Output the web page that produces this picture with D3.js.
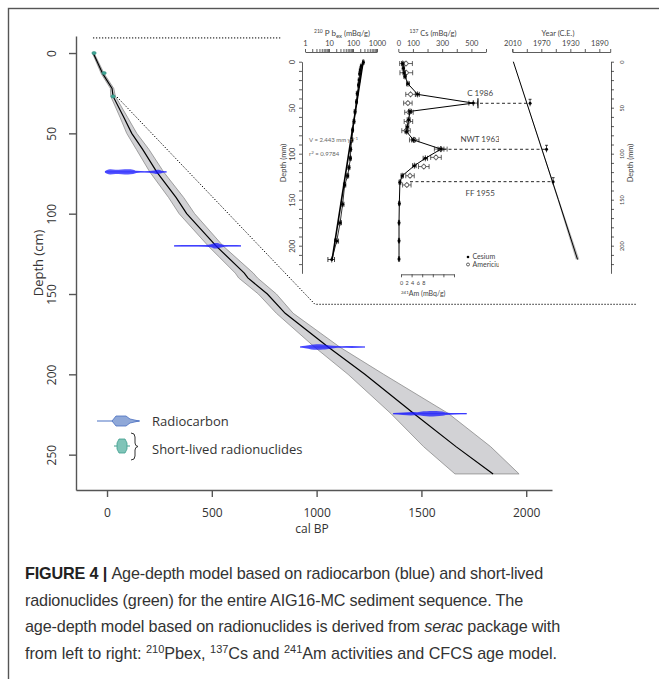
<!DOCTYPE html>
<html>
<head>
<meta charset="utf-8">
<script src="https://cdn.jsdelivr.net/npm/d3@7/dist/d3.min.js"></script>
<style>
  body { margin: 0; background: #fff; }
</style>
</head>
<body>
<div class="canvas"></div>
<script>
'use strict';

// ---------- Data ----------
// Age-depth model (depth in cm, age in cal BP)
var modelDepth = [0, 13, 22, 27, 40, 50, 60, 74, 90, 100, 120, 137, 140, 150, 162, 183, 200, 224.5, 245, 262];
var modelMean = [-66, -20, 24, 29, 80, 118, 170, 237, 330, 380, 520, 655, 672, 765, 850, 1055, 1230, 1465, 1665, 1842];
var modelMin = [-70, -27, 16, 18, 62, 94, 140, 204, 294, 344, 482, 612, 628, 722, 808, 990, 1150, 1355, 1510, 1660];
var modelMax = [-62, -13, 32, 40, 98, 142, 200, 270, 366, 418, 553, 698, 718, 808, 888, 1110, 1320, 1630, 1830, 1966];

// Radiocarbon dates: depth and calibrated probability (relative density)
var c14Depth = [74, 120, 183, 224.5];
var c14Age74 = [-10, 0, 15, 40, 70, 100, 125, 140, 180, 225, 240, 255, 265, 284];
var c14Dens74 = [0, 0.6, 0.9, 0.7, 0.8, 0.9, 0.7, 0.2, 0.05, 0.4, 0.7, 0.5, 0.1, 0];
var c14Age120 = [320, 400, 470, 496, 510, 525, 539, 560, 600, 639];
var c14Dens120 = [0, 0.05, 0.1, 0.4, 0.9, 1, 0.6, 0.15, 0.05, 0];
var c14Age183 = [921, 945, 975, 1000, 1030, 1048, 1080, 1120, 1167, 1231];
var c14Dens183 = [0, 0.3, 0.8, 1, 0.9, 0.7, 0.3, 0.1, 0.2, 0];
var c14Age224 = [1365, 1412, 1450, 1480, 1510, 1540, 1570, 1600, 1616, 1660, 1716];
var c14Dens224 = [0, 0.3, 0.5, 0.4, 0.8, 1, 0.9, 0.7, 0.3, 0.05, 0];

// Short-lived radionuclide ages (cm, cal BP)
var nuclideDepth = [0, 12.5, 27];
var nuclideAge = [-62, -14, 29];

// Dotted zoom lines linking the inset to the core top
var zoomTopAge = [-67, 830];
var zoomTopDepth = [-9.4, -9.4];
var zoomBottomAge = [48, 992, 2529];
var zoomBottomDepth = [27.4, 156.4, 156.4];

var ageTicks = [0, 500, 1000, 1500, 2000];
var depthTicks = [0, 50, 100, 150, 200, 250];

// Inset: 210Pbex (depth mm, mBq/g)
var pbDepth = [0.6, 5, 9, 13, 20, 25.4, 34.5, 43.5, 54.3, 65, 74.3, 85, 95.2, 105, 115, 124, 134, 155, 175, 195, 215];
var pbValue = [269, 220, 200, 190, 180, 170, 150, 140, 122, 110, 97, 90, 80, 78, 68, 60, 45, 37, 29, 21, 13];
var pbErr = [20, 16, 15, 14, 14, 13, 12, 11, 10, 9, 8, 8, 7, 7, 6, 6, 5, 5, 4, 4, 4];
var pbFitDepth = [0, 215];
var pbFitValue = [265, 13.5];
var pbTickLabels = [1, 10, 100, 1000];

// Inset: 137Cs and 241Am
var csDepth = [2, 7, 12, 16, 24, 35.5, 45, 54, 63, 70.6, 76, 85, 95, 105, 113, 124, 131, 154, 175, 194.5, 214.5];
var csValue = [30, 35, 40, 46, 66, 132, 513, 80, 71, 62, 57, 103, 292, 185, 110, 27, 11, 7, 5, 5, 5];
var csErr = [8, 8, 8, 8, 10, 12, 30, 10, 10, 10, 10, 12, 20, 15, 12, 8, 6, 4, 4, 4, 4];
var csTickLabels = [0, 100, 300, 500];

var amDepth = [2, 12, 35.5, 45, 55, 65, 75, 85, 95, 104, 114, 124, 134];
var amValue = [0.95, 1.0, 1.8, 1.3, 1.5, 1.4, 0.95, 2.5, 7.5, 6.6, 4.3, 1.7, 1.1];
var amErr = [1.2, 1.2, 0.9, 0.8, 0.8, 0.8, 0.8, 0.9, 1.2, 1.0, 1.0, 0.8, 0.8];
var amTickLabels = [0, 2, 4, 6, 8];

// Inset: CFCS age model (depth mm, year C.E.)
var cfcsDepth = [0, 150, 215];
var cfcsYear = [2008.6, 1946.5, 1920];
var cfcsLow = [2008.6, 1945.5, 1917.5];
var cfcsHigh = [2008.6, 1947.5, 1922.5];
var yearTickLabels = [2010, 1970, 1930, 1890];
var insetDepthLabels = [0, 50, 100, 150, 200];

// Chronostratigraphic markers
var markerName = ['C 1986', 'NWT 1963', 'FF 1955'];
var markerDepth = [45.2, 95.2, 130.4];
var markerYear = [1985.5, 1962.8, 1953.7];
var markerCs = [559, 306, 80];

// ---------- SVG ----------
var svg = d3.select('.canvas').append('svg').attr('width', 659).attr('height', 679);

// Figure frame
svg.append('rect').attr('x', 8.5).attr('y', 8.5).attr('width', 700).attr('height', 700)
  .attr('fill', 'none').attr('stroke', '#555').attr('stroke-width', 1.4);

var x = d3.scaleLinear().domain([-148, 2123]).range([76, 552]);
var y = d3.scaleLinear().domain([-10.6, 272]).range([36, 490]);

var main = svg.append('g').style('font-family', "'Open Sans', sans-serif");

// Model uncertainty band and mean
var model = modelDepth.map(function (d, i) {
  return { depth: d, mean: modelMean[i], lo: modelMin[i], hi: modelMax[i] };
});
main.append('path').datum(model)
  .attr('d', d3.area().y(function (d) { return y(d.depth); })
    .x0(function (d) { return x(d.lo); }).x1(function (d) { return x(d.hi); }))
  .attr('fill', '#d2d2d5').attr('stroke', '#8c8c8c').attr('stroke-width', 0.8);
main.append('path').datum(model)
  .attr('d', d3.line().x(function (d) { return x(d.mean); }).y(function (d) { return y(d.depth); }))
  .attr('fill', 'none').attr('stroke', '#000').attr('stroke-width', 1.2);

// Dotted zoom lines
[[zoomTopAge, zoomTopDepth], [zoomBottomAge, zoomBottomDepth]].forEach(function (z) {
  main.append('path')
    .attr('d', d3.line()(z[0].map(function (a, i) { return [x(a), y(z[1][i])]; })))
    .attr('fill', 'none').attr('stroke', '#000').attr('stroke-width', 1).attr('stroke-dasharray', '1.3,1.7');
});

// Radiocarbon probability distributions
var thick = d3.scaleLinear().domain([0, 1]).range([0.6, 2.8]);
[[c14Age74, c14Dens74], [c14Age120, c14Dens120], [c14Age183, c14Dens183], [c14Age224, c14Dens224]].forEach(function (c, i) {
  var dep = c14Depth[i];
  main.append('line')
    .attr('x1', x(d3.min(c[0]))).attr('x2', x(d3.max(c[0])))
    .attr('y1', y(dep)).attr('y2', y(dep))
    .attr('stroke', 'rgba(60,60,255,0.5)').attr('stroke-width', 1.2);
  var pts = c[0].map(function (a, j) { return { age: a, dens: c[1][j] }; });
  main.append('path').datum(pts)
    .attr('d', d3.area().curve(d3.curveMonotoneX).x(function (d) { return x(d.age); })
      .y0(function (d) { return y(dep) - thick(d.dens); })
      .y1(function (d) { return y(dep) + thick(d.dens); }))
    .attr('fill', 'rgba(20,20,255,0.72)');
});

// Short-lived radionuclides
main.selectAll('.nuc').data(nuclideDepth).enter().append('ellipse')
  .attr('cx', function (d, i) { return x(nuclideAge[i]); })
  .attr('cy', function (d) { return y(d); })
  .attr('rx', 2.2).attr('ry', 1.6)
  .attr('fill', '#3fa596').attr('stroke', '#2a8677').attr('stroke-width', 0.5);

// Main axes
var xAxis = d3.axisBottom(x).tickValues(ageTicks).tickSize(7).tickSizeOuter(0).tickPadding(11)
  .tickFormat(d3.format('d'));
var yAxis = d3.axisLeft(y).tickValues(depthTicks).tickSize(7).tickSizeOuter(0);
var xg = main.append('g').attr('transform', 'translate(0,490)').call(xAxis);
var yg = main.append('g').attr('transform', 'translate(76,0)').call(yAxis);
[xg, yg].forEach(function (g) {
  g.attr('font-family', null).attr('font-size', null);
  g.selectAll('path, line').attr('stroke', '#555').attr('stroke-width', 1.4);
  g.selectAll('text').attr('fill', '#333').style('font-size', '12px');
});
yg.selectAll('.tick text').attr('transform', 'rotate(-90)').attr('x', 0).attr('y', -24)
  .attr('dy', '0.35em').attr('text-anchor', 'middle');

main.append('text').attr('x', 312).attr('y', 533).attr('text-anchor', 'middle')
  .attr('fill', '#333').style('font-size', '12px').text('cal BP');
main.append('text').attr('transform', 'translate(38,263) rotate(-90)').attr('dy', '0.35em')
  .attr('text-anchor', 'middle').attr('fill', '#333').style('font-size', '13px').text('Depth (cm)');

// Legend
var leg = main.append('g');
leg.append('line').attr('x1', 97).attr('x2', 140).attr('y1', 421).attr('y2', 421)
  .attr('stroke', '#4a72c4').attr('stroke-width', 1.2);
leg.append('path')
  .attr('d', 'M112,421 L116,416 L126,416 L130,419 L139,421 L130,423 L126,426 L116,426 Z')
  .attr('fill', '#8fa8d8').attr('stroke', '#4a6fc0').attr('stroke-width', 0.8);
leg.append('line').attr('x1', 114).attr('x2', 130).attr('y1', 446).attr('y2', 446)
  .attr('stroke', '#3f9e8e').attr('stroke-width', 1);
leg.append('path')
  .attr('d', 'M119,439 L125,439 L127,443 L127,449 L125,453 L119,453 L117,449 L117,443 Z')
  .attr('fill', '#7fc4b8').attr('stroke', '#3f9e8e').attr('stroke-width', 0.8);
leg.append('path')
  .attr('d', 'M131,433 Q135,433 135,437 L135,443 Q135,446 138,446.5 Q135,447 135,450 L135,456 Q135,460 131,460')
  .attr('fill', 'none').attr('stroke', '#333').attr('stroke-width', 1);
leg.append('text').attr('x', 152).attr('y', 426).attr('fill', '#333').style('font-size', '13px').text('Radiocarbon');
leg.append('text').attr('x', 152).attr('y', 454).attr('fill', '#333').style('font-size', '13px').text('Short-lived radionuclides');

// ---------- Inset ----------
var inset = svg.append('g').style('font-family', "Lato, sans-serif");
var dy = d3.scaleLinear().domain([0, 230]).range([61.7, 273.3]);
var pbX = d3.scaleLog().domain([1, 1000]).range([305, 377]);
var csX = d3.scaleLinear().domain([0, 600]).range([398.3, 486]);
var amX = d3.scaleLinear().domain([0, 10]).range([401, 454]);
var amLabelX = d3.scaleLinear().domain([0, 8]).range([401, 423.3]);
var yrX = d3.scaleLinear().domain([2010, 1875]).range([512.3, 610.2]);

function styleAxis(g, size) {
  g.attr('font-family', null).attr('font-size', null);
  g.selectAll('path, line').attr('stroke', '#333').attr('stroke-width', 0.8);
  g.selectAll('text').attr('fill', '#444').style('font-size', size + 'px');
}

// Top axes
var pbTicks = [];
[1, 10, 100].forEach(function (dec) { d3.range(1, 10).forEach(function (k) { pbTicks.push(k * dec); }); });
pbTicks.push(1000);
var pbg = inset.append('g').attr('transform', 'translate(0,52)')
  .call(d3.axisTop(pbX).tickValues(pbTicks).tickSize(3).tickSizeOuter(0).tickPadding(3)
    .tickFormat(function (d) { return pbTickLabels.indexOf(d) >= 0 ? d : ''; }));
styleAxis(pbg, 7.5);

var csg = inset.append('g').attr('transform', 'translate(0,52)')
  .call(d3.axisTop(csX).tickValues(d3.range(0, 601, 100)).tickSize(3).tickSizeOuter(0).tickPadding(3)
    .tickFormat(function (d) { return csTickLabels.indexOf(d) >= 0 ? d : ''; }));
styleAxis(csg, 7.5);

var yrg = inset.append('g').attr('transform', 'translate(0,52)')
  .call(d3.axisTop(yrX).tickValues(d3.range(2010, 1885, -20)).tickSize(3).tickSizeOuter(3).tickPadding(3)
    .tickFormat(function (d) { return yearTickLabels.indexOf(d) >= 0 ? d : ''; }));
styleAxis(yrg, 7.5);

// Titles
var t1 = inset.append('text').attr('x', 342).attr('y', 36).attr('text-anchor', 'middle').attr('fill', '#444');
t1.append('tspan').style('font-size', '5px').attr('dy', -3).text('210');
t1.append('tspan').style('font-size', '8px').attr('dy', 3).text(' P b');
t1.append('tspan').style('font-size', '6px').attr('dy', 1.5).text('ex');
t1.append('tspan').style('font-size', '7.5px').attr('dy', -1.5).text(' (mBq/g)');
var t2 = inset.append('text').attr('x', 433).attr('y', 36).attr('text-anchor', 'middle').attr('fill', '#444');
t2.append('tspan').style('font-size', '5px').attr('dy', -3).text('137');
t2.append('tspan').style('font-size', '7.5px').attr('dy', 3).text(' Cs (mBq/g)');
inset.append('text').attr('x', 558).attr('y', 36).attr('text-anchor', 'middle').attr('fill', '#444')
  .style('font-size', '7.5px').text('Year (C.E.)');

// Depth axes
var ldg = inset.append('g').attr('transform', 'translate(302,0)')
  .call(d3.axisLeft(dy).tickValues(d3.range(0, 230, 10)).tickSize(3).tickSizeOuter(0)
    .tickFormat(function (d) { return insetDepthLabels.indexOf(d) >= 0 ? d : ''; }));
styleAxis(ldg, 7.5);
ldg.selectAll('.tick text').attr('transform', 'rotate(-90)').attr('x', 0).attr('y', -10)
  .attr('dy', '0.35em').attr('text-anchor', 'middle');
var rdg = inset.append('g').attr('transform', 'translate(611,0)')
  .call(d3.axisRight(dy).tickValues(d3.range(0, 230, 10)).tickSize(3).tickSizeOuter(0)
    .tickFormat(function (d) { return insetDepthLabels.indexOf(d) >= 0 ? d : ''; }));
styleAxis(rdg, 5.5);
rdg.selectAll('.tick text').attr('transform', 'rotate(-90)').attr('x', 0).attr('y', 11)
  .attr('dy', '0.35em').attr('text-anchor', 'middle');
inset.append('text').attr('transform', 'translate(283,163) rotate(-90)').attr('dy', '0.35em')
  .attr('text-anchor', 'middle').attr('fill', '#444').style('font-size', '7.5px').text('Depth (mm)');
inset.append('text').attr('transform', 'translate(630,163) rotate(-90)').attr('dy', '0.35em')
  .attr('text-anchor', 'middle').attr('fill', '#444').style('font-size', '7.5px').text('Depth (mm)');

// Error bar helper
function errBars(g, depths, vals, errs, xs) {
  depths.forEach(function (d, i) {
    var cy = dy(d), lo = xs(vals[i] - errs[i]), hi = xs(vals[i] + errs[i]);
    g.append('line').attr('x1', lo).attr('x2', hi).attr('y1', cy).attr('y2', cy);
    g.append('line').attr('x1', lo).attr('x2', lo).attr('y1', cy - 2.5).attr('y2', cy + 2.5);
    g.append('line').attr('x1', hi).attr('x2', hi).attr('y1', cy - 2.5).attr('y2', cy + 2.5);
    g.append('line').attr('x1', xs(vals[i])).attr('x2', xs(vals[i])).attr('y1', cy - 3).attr('y2', cy + 3);
  });
}

// 210Pb panel
var pbg2 = inset.append('g').attr('stroke', '#111').attr('stroke-width', 0.8);
errBars(pbg2, pbDepth, pbValue, pbErr, pbX);
inset.append('path')
  .attr('d', d3.line()(pbFitDepth.map(function (d, i) { return [pbX(pbFitValue[i]), dy(d)]; })))
  .attr('stroke', '#000').attr('stroke-width', 1.6).attr('fill', 'none');
inset.append('path')
  .attr('d', d3.line()(pbDepth.map(function (d, i) { return [pbX(pbValue[i]), dy(d)]; })))
  .attr('stroke', '#000').attr('stroke-width', 0.8).attr('fill', 'none');
inset.selectAll('.pb').data(pbDepth).enter().append('circle')
  .attr('cx', function (d, i) { return pbX(pbValue[i]); }).attr('cy', function (d) { return dy(d); })
  .attr('r', 1.5).attr('fill', '#000');
var vt = inset.append('text').attr('x', 309).attr('y', 142).attr('fill', '#666').style('font-size', '6px');
vt.append('tspan').text('V = 2.443  mm yr');
vt.append('tspan').attr('dy', -2.5).style('font-size', '4.5px').text('\u22121');
var rt = inset.append('text').attr('x', 309).attr('y', 156).attr('fill', '#666').style('font-size', '6px');
rt.append('tspan').text('r');
rt.append('tspan').attr('dy', -2.5).style('font-size', '4.5px').text('2');
rt.append('tspan').attr('dy', 2.5).text(' = 0.9784');

// Americium (open circles)
var amg = inset.append('g').attr('stroke', '#222').attr('stroke-width', 0.7);
errBars(amg, amDepth, amValue, amErr, amX);
inset.selectAll('.am').data(amDepth).enter().append('circle')
  .attr('cx', function (d, i) { return amX(amValue[i]); }).attr('cy', function (d) { return dy(d); })
  .attr('r', 2).attr('fill', '#fff').attr('stroke', '#222').attr('stroke-width', 0.7);

// Cesium (filled, joined)
var csg2 = inset.append('g').attr('stroke', '#111').attr('stroke-width', 0.8);
errBars(csg2, csDepth, csValue, csErr, csX);
inset.append('path')
  .attr('d', d3.line()(csDepth.map(function (d, i) { return [csX(csValue[i]), dy(d)]; })))
  .attr('stroke', '#000').attr('stroke-width', 1).attr('fill', 'none');
inset.selectAll('.cs').data(csDepth).enter().append('circle')
  .attr('cx', function (d, i) { return csX(csValue[i]); }).attr('cy', function (d) { return dy(d); })
  .attr('r', 1.5).attr('fill', '#000');

// Am axis (bottom)
var amg2 = inset.append('g').attr('transform', 'translate(0,274.3)')
  .call(d3.axisBottom(amX).tickValues(d3.range(0, 11, 2)).tickSize(3).tickSizeOuter(0).tickFormat(''));
styleAxis(amg2, 6);
var amLab = inset.append('g').attr('transform', 'translate(0,274.3)')
  .call(d3.axisBottom(amLabelX).tickValues(amTickLabels).tickSize(0).tickPadding(7));
styleAxis(amLab, 5.5);
amLab.select('.domain').remove();
var at = inset.append('text').attr('x', 401).attr('y', 296).attr('fill', '#444');
at.append('tspan').style('font-size', '4.5px').attr('dy', -2.5).text('241');
at.append('tspan').style('font-size', '7px').attr('dy', 2.5).text('Am (mBq/g)');

// Cs/Am legend (clipped like the source panel)
svg.append('clipPath').attr('id', 'csclip').append('rect')
  .attr('x', 380).attr('y', 80).attr('width', 119).attr('height', 200);
var lg = inset.append('g').attr('clip-path', 'url(#csclip)');
lg.append('circle').attr('cx', 468).attr('cy', 257).attr('r', 1.3).attr('fill', '#000');
lg.append('circle').attr('cx', 468).attr('cy', 264.5).attr('r', 1.5).attr('fill', '#fff').attr('stroke', '#222').attr('stroke-width', 0.7);
lg.append('text').attr('x', 472.5).attr('y', 259.3).attr('fill', '#444').style('font-size', '7px').text('Cesium');
lg.append('text').attr('x', 472.5).attr('y', 267).attr('fill', '#444').style('font-size', '7px').text('Americium');

// CFCS model line with uncertainty
var cfcs = cfcsDepth.map(function (d, i) { return { depth: d, yr: cfcsYear[i], lo: cfcsLow[i], hi: cfcsHigh[i] }; });
inset.append('path').datum(cfcs)
  .attr('d', d3.area().y(function (d) { return dy(d.depth); })
    .x0(function (d) { return yrX(d.hi); }).x1(function (d) { return yrX(d.lo); }))
  .attr('fill', '#bbb');
inset.append('path').datum(cfcs)
  .attr('d', d3.line().x(function (d) { return yrX(d.yr); }).y(function (d) { return dy(d.depth); }))
  .attr('stroke', '#000').attr('stroke-width', 1).attr('fill', 'none');

// Markers and dashed links
markerDepth.forEach(function (d, i) {
  var cy = dy(d);
  inset.append('line').attr('x1', csX(markerCs[i])).attr('x2', yrX(markerYear[i]))
    .attr('y1', cy).attr('y2', cy).attr('stroke', '#111').attr('stroke-width', 0.9)
    .attr('stroke-dasharray', '3,2.5');
  var mx = yrX(markerYear[i]);
  inset.append('line').attr('x1', mx).attr('x2', mx).attr('y1', cy - 4).attr('y2', cy + 3)
    .attr('stroke', '#111').attr('stroke-width', 0.8);
  inset.append('line').attr('x1', mx - 1.5).attr('x2', mx + 1.5).attr('y1', cy - 4).attr('y2', cy - 4)
    .attr('stroke', '#111').attr('stroke-width', 0.8);
  inset.append('circle').attr('cx', mx).attr('cy', cy).attr('r', 1.5).attr('fill', '#000');
  lg.append('text').attr('x', csX(560)).attr('y', i === 2 ? cy + 14 : cy - 7)
    .attr('text-anchor', 'middle').attr('fill', '#444').style('font-size', '8px').text(markerName[i]);
});
// The C 1986 right error bar
inset.append('line').attr('x1', csX(545)).attr('x2', csX(545)).attr('y1', dy(45.2) - 5).attr('y2', dy(45.2) + 5)
  .attr('stroke', '#111').attr('stroke-width', 1.2);

// ---------- Caption ----------
var cap = svg.append('g').style('font-family', "'Liberation Sans', Arial, sans-serif")
  .style('font-size', '16.2px').attr('fill', '#333');
var l1 = cap.append('text').attr('x', 25).attr('y', 579).attr('data-w', 518);
l1.append('tspan').attr('font-weight', 'bold').attr('fill', '#222').text('FIGURE 4 | ');
l1.append('tspan').text('Age-depth model based on radiocarbon (blue) and short-lived');
cap.append('text').attr('x', 25).attr('y', 605.5).attr('data-w', 498)
  .text('radionuclides (green) for the entire AIG16-MC sediment sequence. The');
var l3 = cap.append('text').attr('x', 25).attr('y', 632).attr('data-w', 535);
l3.append('tspan').text('age-depth model based on radionuclides is derived from ');
l3.append('tspan').attr('font-style', 'italic').text('serac');
l3.append('tspan').text(' package with');
var l4 = cap.append('text').attr('x', 25).attr('y', 658.5).attr('data-w', 532);
l4.append('tspan').text('from left to right: ');
l4.append('tspan').attr('dy', -6).style('font-size', '11px').text('210');
l4.append('tspan').attr('dy', 6).text('Pbex, ');
l4.append('tspan').attr('dy', -6).style('font-size', '11px').text('137');
l4.append('tspan').attr('dy', 6).text('Cs and ');
l4.append('tspan').attr('dy', -6).style('font-size', '11px').text('241');
l4.append('tspan').attr('dy', 6).text('Am activities and CFCS age model.');

// Fit each caption line to the width it has in the figure with letter spacing
cap.selectAll('text').each(function () {
  var t = d3.select(this);
  var natural = this.getComputedTextLength();
  var n = this.textContent.length;
  t.style('letter-spacing', ((+t.attr('data-w') - natural) / n) + 'px');
});
</script>
</body>
</html>
